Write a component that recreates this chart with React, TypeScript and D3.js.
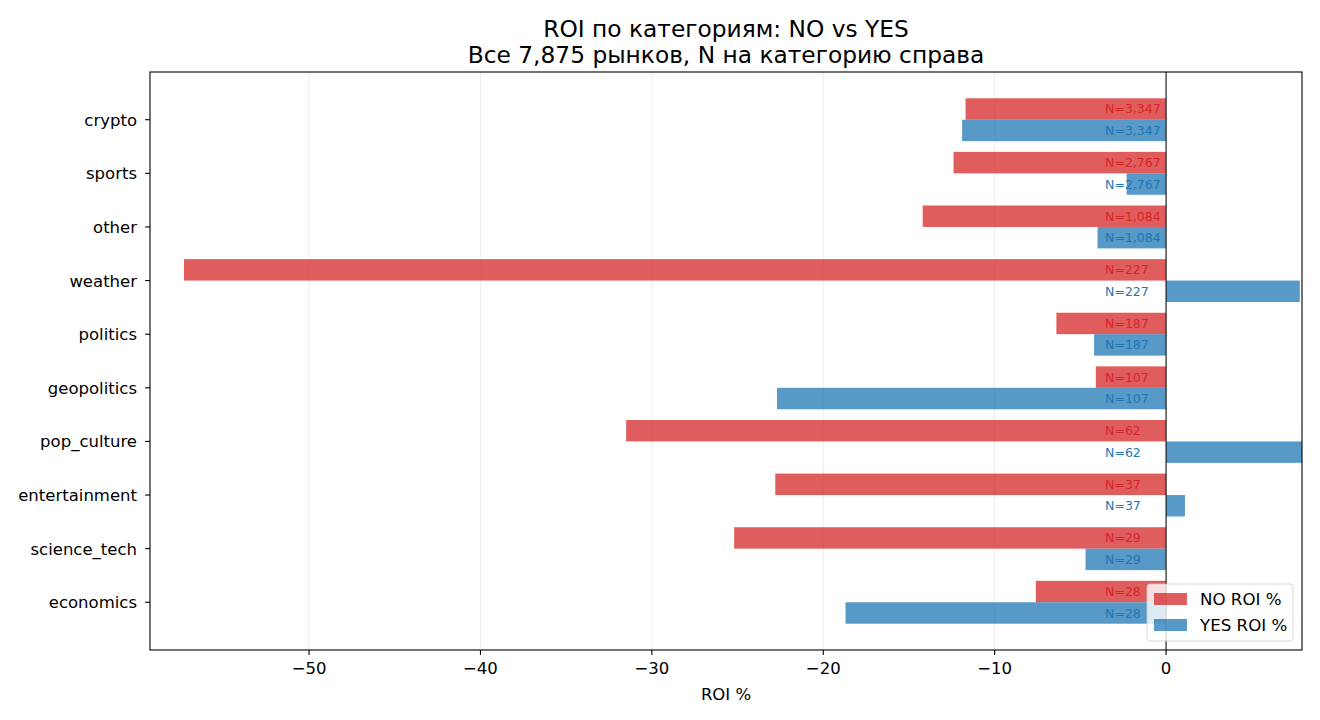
import React from "react";
import * as d3 from "d3";

const categories = ["crypto", "sports", "other", "weather", "politics", "geopolitics", "pop_culture", "entertainment", "science_tech", "economics"];
const noRoi = [-11.7, -12.4, -14.2, -57.3, -6.4, -4.1, -31.5, -22.8, -25.2, -7.6];
const yesRoi = [-11.9, -2.3, -4.0, 7.8, -4.2, -22.7, 9.5, 1.1, -4.7, -18.7];
const counts = [3347, 2767, 1084, 227, 187, 107, 62, 37, 29, 28];
const xTicks = [-50, -40, -30, -20, -10, 0];

const W = 1320, H = 720;
const M = { left: 150, right: 1302, top: 72, bottom: 650 };
const RED = "#d62728", BLUE = "#1f77b4";
const FONT = "DejaVu Sans, sans-serif";

export default function App() {
  const x = d3.scaleLinear().domain([-59.28, 7.93]).range([M.left, M.right]);
  const y = d3.scaleLinear().domain([-0.89, 9.89]).range([M.top, M.bottom]);
  const bh = y(0.4) - y(0);
  const fmt = d3.format(",");
  const labelX = x(-3.56);
  const TICK_FS = 16.5;

  return (
    <svg width={W} height={H} style={{ position: "absolute", left: 0, top: 0, background: "#fff" }} fontFamily={FONT}>
      <defs>
        <clipPath id="plot">
          <rect x={M.left} y={M.top} width={M.right - M.left} height={M.bottom - M.top} />
        </clipPath>
      </defs>
      <rect x={0} y={0} width={W} height={H} fill="#fff" />
      {xTicks.map((t) => (
        <line key={"g" + t} x1={x(t)} x2={x(t)} y1={M.top} y2={M.bottom} stroke="#b0b0b0" strokeOpacity={0.3} strokeWidth={0.8} />
      ))}
      <g clipPath="url(#plot)">
        {categories.map((c, i) => {
          const x0 = x(0);
          const xn = x(noRoi[i]);
          const xy = x(yesRoi[i]);
          return (
            <g key={c}>
              <rect x={Math.min(x0, xn)} y={y(i - 0.4)} width={Math.abs(xn - x0)} height={bh} fill={RED} fillOpacity={0.75} />
              <rect x={Math.min(x0, xy)} y={y(i)} width={Math.abs(xy - x0)} height={bh} fill={BLUE} fillOpacity={0.75} />
            </g>
          );
        })}
        <line x1={x(0)} x2={x(0)} y1={M.top} y2={M.bottom} stroke="#000" strokeWidth={1} />
        {categories.map((c, i) => (
          <g key={"t" + c} fontSize={12.5}>
            <text x={labelX} y={y(i - 0.2)} dy="0.36em" fill={RED}>N={fmt(counts[i])}</text>
            <text x={labelX} y={y(i + 0.2)} dy="0.36em" fill={BLUE}>N={fmt(counts[i])}</text>
          </g>
        ))}
      </g>
      <rect x={M.left} y={M.top} width={M.right - M.left} height={M.bottom - M.top} fill="none" stroke="#000" strokeWidth={1.1} />
      {xTicks.map((t) => (
        <g key={"x" + t}>
          <line x1={x(t)} x2={x(t)} y1={M.bottom} y2={M.bottom + 4.9} stroke="#000" strokeWidth={1.1} />
          <text x={x(t)} y={668} dy="0.36em" textAnchor="middle" fontSize={TICK_FS}>{t < 0 ? "\u2212" + Math.abs(t) : String(t)}</text>
        </g>
      ))}
      {categories.map((c, i) => (
        <g key={"y" + c}>
          <line x1={M.left - 4.9} x2={M.left} y1={y(i)} y2={y(i)} stroke="#000" strokeWidth={1.1} />
          <text x={M.left - 13} y={y(i)} dy="0.36em" textAnchor="end" fontSize={TICK_FS}>{c}</text>
        </g>
      ))}
      <text x={(M.left + M.right) / 2} y={694} dy="0.36em" textAnchor="middle" fontSize={TICK_FS}>ROI %</text>
      <text x={(M.left + M.right) / 2} y={29} dy="0.36em" textAnchor="middle" fontSize={23.3}>ROI по категориям: NO vs YES</text>
      <text x={(M.left + M.right) / 2} y={55} dy="0.36em" textAnchor="middle" fontSize={23.3}>Все 7,875 рынков, N на категорию справа</text>
      <g>
        <rect x={1147} y={584} width={146} height={57} rx={3} fill="#fff" fillOpacity={0.8} stroke="#cccccc" strokeOpacity={0.8} />
        <rect x={1154} y={593} width={33} height={12} fill={RED} fillOpacity={0.75} />
        <rect x={1154} y={619} width={33} height={12} fill={BLUE} fillOpacity={0.75} />
        <text x={1200} y={599} dy="0.36em" fontSize={16.67}>NO ROI %</text>
        <text x={1200} y={625} dy="0.36em" fontSize={16.67}>YES ROI %</text>
      </g>
    </svg>
  );
}
